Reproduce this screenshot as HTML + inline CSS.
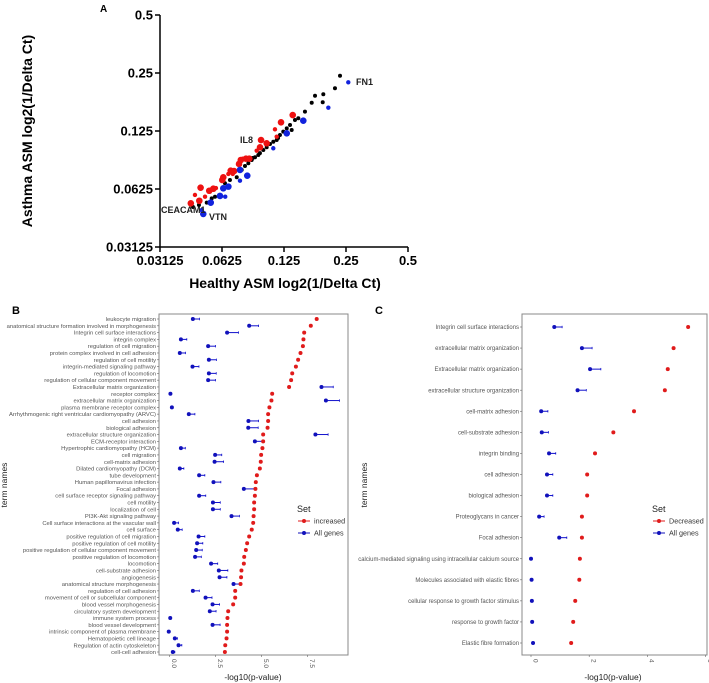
<!DOCTYPE html>
<html><head><meta charset="utf-8"><style>
html,body{margin:0;padding:0;background:#fff;}
svg{display:block;font-family:"Liberation Sans",sans-serif;}
</style></head><body>
<svg id="fig" width="709" height="683" viewBox="0 0 709 683" xmlns="http://www.w3.org/2000/svg">
<g id="pa"></g>
<g id="pb"></g>
<g id="pc"></g>
</svg>
<script>
// ---- Panel A data ----
const aTicks = [0.03125, 0.0625, 0.125, 0.25, 0.5];
const aTickLabels = ["0.03125", "0.0625", "0.125", "0.25", "0.5"];
const redX = [0.0441,0.0462,0.0485,0.0492,0.0517,0.0542,0.0567,0.0584,0.0627,0.0634,0.0671,0.0689,0.0715,0.0705,0.0756,0.0771,0.0788,0.0817,0.0848,0.0921,0.0956,0.103,0.113,0.1209,0.1378,0.1152,0.0967];
const redY = [0.0527,0.0582,0.0543,0.0635,0.057,0.0612,0.0627,0.0632,0.0696,0.0719,0.0748,0.0778,0.0775,0.0748,0.0843,0.0884,0.0898,0.0898,0.0898,0.0988,0.1029,0.1079,0.1275,0.1387,0.1513,0.1168,0.1122];
const blueX = [0.0507,0.0498,0.0551,0.0611,0.0648,0.0634,0.0671,0.0764,0.0829,0.0764,0.1109,0.1289,0.1551,0.2052,0.2565];
const blueY = [0.0464,0.0486,0.0531,0.0575,0.057,0.063,0.0643,0.069,0.0733,0.0785,0.1017,0.1216,0.1414,0.1652,0.2237];
const blackX = [0.0452,0.0483,0.0527,0.0557,0.0578,0.0646,0.0683,0.0737,0.0779,0.0808,0.0839,0.0871,0.0904,0.0938,0.0992,0.103,0.1069,0.1109,0.1152,0.1195,0.124,0.1289,0.1337,0.1362,0.1413,0.1467,0.158,0.1704,0.1768,0.194,0.1927,0.221,0.2338,0.088,0.0955,0.117];
const blackY = [0.0504,0.0516,0.0531,0.0559,0.057,0.0669,0.0696,0.0719,0.0785,0.0823,0.085,0.0884,0.0913,0.0938,0.0996,0.1029,0.107,0.110,0.1122,0.1192,0.124,0.129,0.1343,0.1265,0.1426,0.1455,0.1575,0.1753,0.1906,0.1938,0.1762,0.2082,0.2419,0.0905,0.0960,0.1150];

// ---- Panel B data ----
const bTerms = ["leukocyte migration","anatomical structure formation involved in morphogenesis","Integrin cell surface interactions","integrin complex","regulation of cell migration","protein complex involved in cell adhesion","regulation of cell motility","integrin-mediated signaling pathway","regulation of locomotion","regulation of cellular component movement","Extracellular matrix organization","receptor complex","extracellular matrix organization","plasma membrane receptor complex","Arrhythmogenic right ventricular cardiomyopathy (ARVC)","cell adhesion","biological adhesion","extracellular structure organization","ECM-receptor interaction","Hypertrophic cardiomyopathy (HCM)","cell migration","cell-matrix adhesion","Dilated cardiomyopathy (DCM)","tube development","Human papillomavirus infection","Focal adhesion","cell surface receptor signaling pathway","cell motility","localization of cell","PI3K-Akt signaling pathway","Cell surface interactions at the vascular wall","cell surface","positive regulation of cell migration","positive regulation of cell motility","positive regulation of cellular component movement","positive regulation of locomotion","locomotion","cell-substrate adhesion","angiogenesis","anatomical structure morphogenesis","regulation of cell adhesion","movement of cell or subcellular component","blood vessel morphogenesis","circulatory system development","immune system process","blood vessel development","intrinsic component of plasma membrane","Hematopoietic cell lineage","Regulation of actin cytoskeleton","cell-cell adhesion"];
const bIncreased = [8.0,7.68,7.32,7.28,7.25,7.12,6.99,6.87,6.67,6.61,6.5,5.58,5.54,5.43,5.36,5.36,5.33,5.09,5.09,5.05,4.98,4.96,4.91,4.75,4.69,4.67,4.64,4.6,4.6,4.57,4.55,4.47,4.33,4.22,4.15,4.06,4.04,3.91,3.89,3.86,3.57,3.57,3.46,3.19,3.15,3.13,3.13,3.1,3.03,3.01];
const bAll = [1.27,4.33,3.13,0.62,2.1,0.56,2.14,1.25,2.14,2.1,8.26,0.05,8.5,0.13,1.05,4.29,4.28,7.93,4.64,0.62,2.48,2.45,0.56,1.61,2.39,4.04,1.61,2.36,2.36,3.37,0.25,0.45,1.58,1.5,1.45,1.39,2.26,2.68,2.72,3.48,1.27,1.96,2.34,2.19,0.04,2.34,-0.04,0.29,0.49,0.18];
const bAllUpper = [1.63,4.84,3.75,0.94,2.5,0.87,2.55,1.6,2.54,2.5,8.9,0.05,9.24,0.13,1.38,4.84,4.82,8.62,5.09,0.86,2.84,2.94,0.78,1.92,2.79,4.66,1.97,2.76,2.76,3.8,0.49,0.69,1.92,1.81,1.78,1.73,2.62,3.17,3.12,3.86,1.62,2.31,2.72,2.53,0.04,2.75,-0.04,0.43,0.67,0.29];
const bTicks = [0, 2.5, 5, 7.5];
const bTickLabels = ["0.0","2.5","5.0","7.5"];

// ---- Panel C data ----
const cTerms = ["Integrin cell surface interactions","extracellular matrix organization","Extracellular matrix organization","extracellular structure organization","cell-matrix adhesion","cell-substrate adhesion","integrin binding","cell adhesion","biological adhesion","Proteoglycans in cancer","Focal adhesion","calcium-mediated signaling using intracellular calcium source","Molecules associated with elastic fibres","cellular response to growth factor stimulus","response to growth factor","Elastic fibre formation"];
const cDecreased = [5.4,4.9,4.7,4.6,3.54,2.83,2.2,1.93,1.93,1.75,1.75,1.68,1.66,1.52,1.45,1.38];
const cAll = [0.8,1.75,2.03,1.6,0.35,0.37,0.62,0.55,0.55,0.28,0.97,0.0,0.02,0.03,0.04,0.07];
const cAllUpper = [1.07,2.1,2.4,1.9,0.58,0.6,0.85,0.75,0.75,0.45,1.23,0.0,0.02,0.03,0.04,0.07];
const cTicks = [0, 2, 4, 6];
const cTickLabels = ["0","2","4","6"];

const NS = "http://www.w3.org/2000/svg";
function mk(tag, attrs, parent, text){
  const e = document.createElementNS(NS, tag);
  for (const k in attrs) e.setAttribute(k, attrs[k]);
  if (text !== undefined) e.textContent = text;
  parent.appendChild(e);
  return e;
}

// ===== Panel A =====
(function(){
  const g = document.getElementById('pa');
  const x0=160, x1=408, y0=247, y1=15;
  const ax = v => x0 + (Math.log2(v/0.03125)/4)*(x1-x0);
  const ay = v => y0 - (Math.log2(v/0.03125)/4)*(y0-y1);
  let t = mk('text',{x:100,y:12,'font-size':10,'font-weight':'bold'},g,'A');
   
  let l = mk('line',{x1:x0,y1:y1,x2:x0,y2:y0,stroke:'#000','stroke-width':1.5},g);
   
  l = mk('line',{x1:x0,y1:y0,x2:x1,y2:y0,stroke:'#000','stroke-width':1.5},g);
   
  aTicks.forEach((v,i)=>{
    let tk = mk('line',{x1:x0-5,y1:ay(v),x2:x0,y2:ay(v),stroke:'#000','stroke-width':1.5},g);
     
    let tl = mk('text',{x:x0-7,y:ay(v)+4.5,'font-size':13,'font-weight':'bold','text-anchor':'end'},g,aTickLabels[i]);
     
    tk = mk('line',{x1:ax(v),y1:y0,x2:ax(v),y2:y0+5,stroke:'#000','stroke-width':1.5},g);
     
    tl = mk('text',{x:ax(v),y:y0+18,'font-size':13,'font-weight':'bold','text-anchor':'middle'},g,aTickLabels[i]);
     
  });
  t = mk('text',{x:285,y:288,'font-size':14,'font-weight':'bold','text-anchor':'middle'},g,'Healthy ASM log2(1/Delta Ct)');
   
  t = mk('text',{x:0,y:0,'font-size':14,'font-weight':'bold','text-anchor':'middle',transform:'translate(32,131) rotate(-90)'},g,'Asthma ASM log2(1/Delta Ct)');
   
  blackX.forEach((v,i)=>{
    const c = mk('circle',{cx:ax(v),cy:ay(blackY[i]),r:2,fill:'#000'},g);
     
  });
  redX.forEach((v,i)=>{
    const c = mk('circle',{cx:ax(v),cy:ay(redY[i]),r:(i%3===1?2.2:3.3),fill:'#ee1111'},g);
     
  });
  blueX.forEach((v,i)=>{
    const c = mk('circle',{cx:ax(v),cy:ay(blueY[i]),r:(i%3===1||i===14?2.2:3.3),fill:'#1122dd'},g);
     
  });
  const labs=[['FN1',356,85],['IL8',240,143],['CEACAM1',161,213],['VTN',209,220]];
  labs.forEach(a=>{
    const tt = mk('text',{x:a[1],y:a[2],'font-size':9,'font-weight':'bold',fill:'#222'},g,a[0]);
     
  });
})();

// ===== Dot plot helper =====
function dotplot(g, o){
  const {left,top,right,bottom,terms,red,blue,upper,ticks,tickLabels,rowFirst,rowLast,labelSize,legend,letter,letterX,ytitleX,xtitleX} = o;
  const sx = v => o.zeroX + v*o.unit;
  const step = (rowLast-rowFirst)/(terms.length-1);
  const sy = i => rowFirst + i*step;
  let t = mk('text',{x:letterX,y:314,'font-size':11,'font-weight':'bold'},g,letter);
   
  let r = mk('rect',{x:left,y:top,width:right-left,height:bottom-top,fill:'#fff',stroke:'#888','stroke-width':1},g);
   
  terms.forEach((name,i)=>{
    const y = sy(i);
    const tl = mk('text',{x:left-3,y:y+labelSize*0.35,'font-size':labelSize,fill:'#555','text-anchor':'end'},g,name);
     
    const tk = mk('line',{x1:left-2,y1:y,x2:left,y2:y,stroke:'#666','stroke-width':0.6},g);
     
    if (upper[i] > blue[i] + 0.02){
      const eb = mk('line',{x1:sx(blue[i]),y1:y,x2:sx(upper[i]),y2:y,stroke:'#1111cc','stroke-width':1},g);
       
      const cap = mk('line',{x1:sx(upper[i]),y1:y-1.2,x2:sx(upper[i]),y2:y+1.2,stroke:'#1111cc','stroke-width':0.8},g);
       
    }
    const bd = mk('circle',{cx:sx(blue[i]),cy:y,r:o.dot,fill:'#1111bb'},g);
     
    const rd = mk('circle',{cx:sx(red[i]),cy:y,r:o.dot,fill:'#e01b1b'},g);
     
  });
  ticks.forEach((v,i)=>{
    const x = sx(v);
    const tk = mk('line',{x1:x,y1:bottom,x2:x,y2:bottom+2,stroke:'#666','stroke-width':0.6},g);
     
    const tl = mk('text',{x:0,y:0,'font-size':6.5,fill:'#555','text-anchor':'start',transform:`translate(${x+2.3},${bottom+4}) rotate(90)`},g,tickLabels[i]);
     
  });
  t = mk('text',{x:xtitleX,y:680,'font-size':8.5,fill:'#222','text-anchor':'middle'},g,'-log10(p-value)');
   
  t = mk('text',{x:0,y:0,'font-size':8.5,fill:'#222','text-anchor':'middle',transform:`translate(${ytitleX},485) rotate(-90)`},g,'term names');
   
  const lx = o.legX;
  t = mk('text',{x:lx,y:512,'font-size':9,fill:'#222'},g,'Set');
   
  [[legend[0],'#e01b1b',521],[legend[1],'#1111bb',533]].forEach(e=>{
    const gg = mk('g',{},g);
     
    mk('line',{x1:lx+1,y1:e[2],x2:lx+13,y2:e[2],stroke:e[1],'stroke-width':1},gg);
    mk('circle',{cx:lx+7,cy:e[2],r:2,fill:e[1]},gg);
    mk('text',{x:lx+17,y:e[2]+2.5,'font-size':7.2,fill:'#333'},gg,e[0]);
  });
}

dotplot(document.getElementById('pb'),{
  left:159,top:314,right:348,bottom:655,zeroX:169.5,unit:18.4,
  terms:bTerms,red:bIncreased,blue:bAll,upper:bAllUpper,ticks:bTicks,tickLabels:bTickLabels,
  rowFirst:319,rowLast:652,labelSize:5.85,legend:['increased','All genes'],letter:'B',letterX:12,
  ytitleX:7,xtitleX:253,legX:297,dot:2
});
dotplot(document.getElementById('pc'),{
  left:522,top:314,right:707,bottom:655,zeroX:531,unit:29.1,
  terms:cTerms,red:cDecreased,blue:cAll,upper:cAllUpper,ticks:cTicks,tickLabels:cTickLabels,
  rowFirst:327,rowLast:643,labelSize:5.95,legend:['Decreased','All genes'],letter:'C',letterX:375,
  ytitleX:367,xtitleX:613,legX:652,dot:2
});
</script>
</body></html>
